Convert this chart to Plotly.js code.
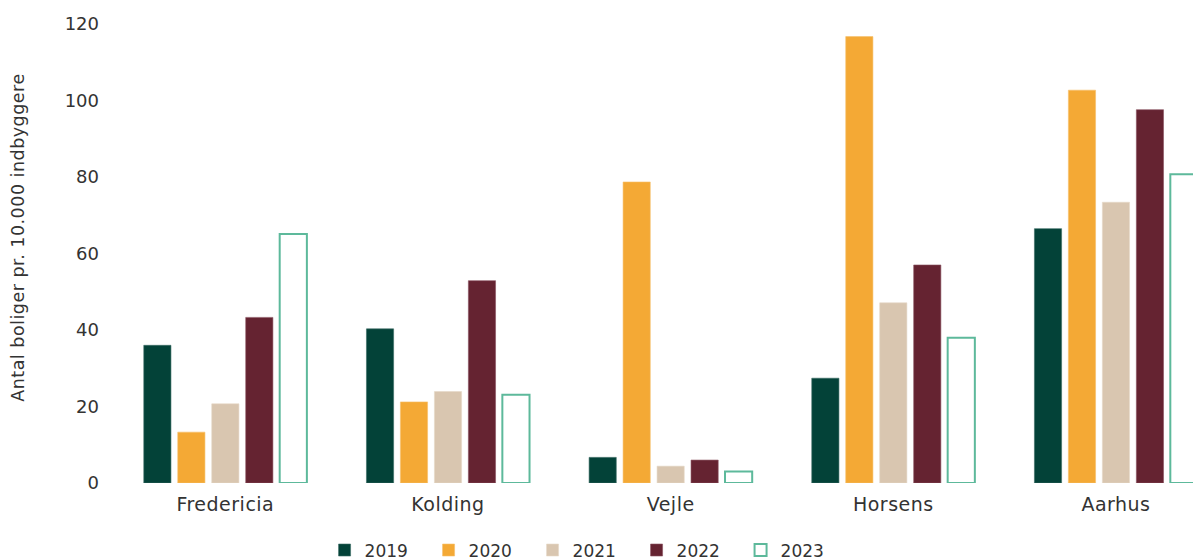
<!DOCTYPE html>
<html>
<head>
<meta charset="utf-8">
<script src="https://cdn.plot.ly/plotly-3.0.1.min.js"></script>
<style>
html,body{margin:0;padding:0;background:#fff;overflow:hidden;}
#chart{width:1193px;height:560px;}
#chart .xtick text{letter-spacing:0.5px;}
#chart .annotation-text{letter-spacing:0.5px;}
</style>
</head>
<body>
<div id="chart"></div>
<script>
const categories = ["Fredericia", "Kolding", "Vejle", "Horsens", "Aarhus"];
const years = ["2019", "2020", "2021", "2022", "2023"];
const v2019 = [36.0, 40.3, 6.7, 27.4, 66.5];
const v2020 = [13.3, 21.2, 78.7, 116.7, 102.7];
const v2021 = [20.7, 23.9, 4.4, 47.1, 73.4];
const v2022 = [43.3, 52.9, 6.0, 57.0, 97.6];
const v2023 = [65.1, 23.1, 3.0, 38.0, 80.7];
const yTicks = [0, 20, 40, 60, 80, 100, 120];
const yTitle = "Antal boliger pr. 10.000 indbyggere";

const series = [v2019, v2020, v2021, v2022, v2023];
const fills = ["#034238", "#F4A935", "#D9C6B0", "#652331", "#FFFFFF"];
const lines = ["#3d6b64", "#f7c06a", "#e6d8c8", "#8a5360", "#5DB99B"];
const lineW = [0.6, 0.6, 0.6, 0.6, 2];

const textColor = "#333333";
const font = "DejaVu Sans, sans-serif";

const traces = series.map((vals, i) => ({
  type: "bar",
  name: years[i],
  x: categories,
  y: vals,
  marker: {color: fills[i], line: {color: lines[i], width: lineW[i]}},
  hoverinfo: "x+y+name"
}));

const layout = {
  width: 1193,
  height: 560,
  margin: {l: 114, r: 0, t: 23.5, b: 76.5, pad: 0},
  paper_bgcolor: "#ffffff",
  plot_bgcolor: "#ffffff",
  font: {family: font, color: textColor, size: 18},
  barmode: "group",
  bargap: 0.237,
  bargroupgap: 0.2,
  showlegend: true,
  legend: {
    orientation: "h",
    xref: "container", yref: "container",
    x: 0.49, xanchor: "center",
    y: 0.017, yanchor: "middle",
    font: {family: font, size: 17, color: textColor},
    entrywidth: 59,
    traceorder: "normal"
  },
  xaxis: {
    type: "category",
    range: [-0.5, 4.346],
    showgrid: false, zeroline: false, showline: false,
    ticks: "", ticklabelstandoff: 8,
    tickfont: {family: font, size: 19, color: textColor},
    fixedrange: true
  },
  yaxis: {
    range: [0, 120],
    tickvals: yTicks,
    ticktext: yTicks.map(String),
    showgrid: false, zeroline: false, showline: false,
    ticks: "", ticklabelstandoff: 14,
    tickfont: {family: font, size: 18, color: textColor},
    fixedrange: true
  },
  annotations: [{
    text: yTitle,
    xref: "paper", yref: "paper",
    x: (18 - 114) / 1079, y: (483.5 - 238) / 460,
    xanchor: "center", yanchor: "middle",
    textangle: -90, showarrow: false,
    font: {family: font, size: 17.5, color: textColor}
  }]
};

Plotly.newPlot("chart", traces, layout, {displayModeBar: false, staticPlot: false});
</script>
</body>
</html>
